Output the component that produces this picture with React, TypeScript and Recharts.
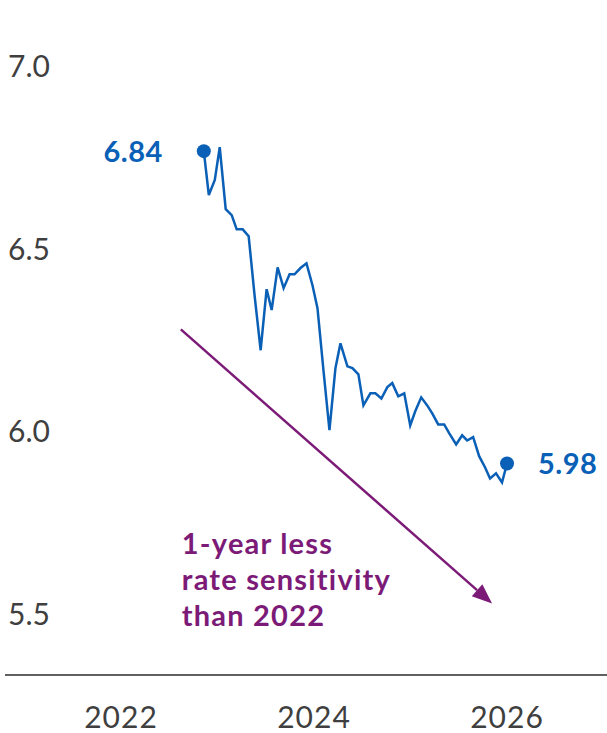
import { LineChart, Line, XAxis, YAxis, ReferenceLine } from 'recharts'

// decimal years, roughly every three weeks
const dates = [
  2022.858, 2022.91, 2022.972, 2023.023, 2023.085, 2023.147, 2023.199, 2023.261,
  2023.323, 2023.385, 2023.447, 2023.509, 2023.561, 2023.623, 2023.685, 2023.747,
  2023.798, 2023.86, 2023.922, 2023.984, 2024.036, 2024.098, 2024.16, 2024.222,
  2024.274, 2024.346, 2024.398, 2024.46, 2024.512, 2024.584, 2024.636, 2024.698,
  2024.76, 2024.811, 2024.873, 2024.935, 2024.997, 2025.049, 2025.111, 2025.173,
  2025.225, 2025.287, 2025.349, 2025.4, 2025.473, 2025.535, 2025.587, 2025.649,
  2025.711, 2025.773, 2025.824, 2025.886, 2025.948, 2026.0,
]

const duration = [
  6.767, 6.647, 6.688, 6.778, 6.608, 6.592, 6.553, 6.553,
  6.534, 6.37, 6.222, 6.389, 6.332, 6.449, 6.392, 6.43,
  6.43, 6.447, 6.46, 6.4, 6.337, 6.167, 6.003, 6.173,
  6.241, 6.178, 6.173, 6.156, 6.071, 6.104, 6.104, 6.09,
  6.121, 6.132, 6.096, 6.104, 6.016, 6.055, 6.093, 6.071,
  6.049, 6.019, 6.019, 5.995, 5.964, 5.989, 5.975, 5.984,
  5.932, 5.901, 5.871, 5.885, 5.86, 5.912,
]

const endLabels = ['6.84', '5.98']
const yearTicks = [2022, 2024, 2026]
const durationTicks = [5.5, 6.0, 6.5, 7.0]
const trendFrom = { x: 2022.62, y: 6.279 }
const trendTo = { x: 2025.845, y: 5.529 }
const trendNote = ['1-year less', 'rate sensitivity', 'than 2022']

const BLUE = '#0a5fb6'
const PURPLE = '#7c1b77'
const AXIS_TEXT = '#3f3f3f'
const FONT = 'Lato, "Open Sans", sans-serif'

const data = dates.map((d, i) => ({ date: d, value: duration[i] }))

function YearTick({ x, y, payload }: any) {
  return (
    <text x={x} y={y + 53} textAnchor="middle" fill={AXIS_TEXT} fontSize={30} letterSpacing={1} fontFamily={FONT}>
      {payload.value}
    </text>
  )
}

function DurationTick({ y, payload }: any) {
  return (
    <text x={8} y={y + 11} textAnchor="start" fill={AXIS_TEXT} fontSize={30} fontFamily={FONT}>
      {payload.value.toFixed(1)}
    </text>
  )
}

function EndDot(props: any) {
  const { cx, cy, index } = props
  const last = data.length - 1
  if (index !== 0 && index !== last) return <g key={`d${index}`} />
  const first = index === 0
  return (
    <g key={`d${index}`}>
      <circle cx={cx} cy={cy} r={7} fill={BLUE} />
      <text
        x={first ? cx - 41 : cx + 31}
        y={cy + 11}
        textAnchor={first ? 'end' : 'start'}
        fill={BLUE}
        fontSize={29}
        fontWeight={700}
        letterSpacing={0.5}
        fontFamily={FONT}
      >
        {first ? endLabels[0] : endLabels[1]}
      </text>
    </g>
  )
}

function TrendArrow(props: any) {
  const { x1, y1, x2, y2 } = props
  const ang = Math.atan2(y2 - y1, x2 - x1)
  const len = 20
  const half = 8
  const bx = x2 - len * Math.cos(ang)
  const by = y2 - len * Math.sin(ang)
  const px = -Math.sin(ang) * half
  const py = Math.cos(ang) * half
  return (
    <g>
      <line x1={x1} y1={y1} x2={bx} y2={by} stroke={PURPLE} strokeWidth={2.5} />
      <polygon points={`${x2},${y2} ${bx + px},${by + py} ${bx - px},${by - py}`} fill={PURPLE} />
      {trendNote.map((t, i) => (
        <text
          key={t}
          x={x1 + 1}
          y={y1 + 225 + i * 36}
          fill={PURPLE}
          fontSize={29}
          fontWeight={700}
          letterSpacing={1.2}
          fontFamily={FONT}
        >
          {t}
        </text>
      ))}
    </g>
  )
}

export default function App() {
  return (
    <div style={{ position: 'absolute', left: 0, top: 0, width: 607, height: 733, background: '#fff' }}>
      <LineChart width={607} height={733} data={data} margin={{ top: 20, right: 0, left: 0, bottom: 0 }}>
        <XAxis
          dataKey="date"
          type="number"
          domain={[2020.798, 2027.036]}
          ticks={yearTicks}
          allowDataOverflow
          height={58}
          tickSize={0}
          tickMargin={0}
          tickLine={false}
          axisLine={{ stroke: '#2b2b2b', strokeWidth: 1.5 }}
          tick={<YearTick />}
        />
        <YAxis
          type="number"
          domain={[5.333, 7.126]}
          ticks={durationTicks}
          allowDataOverflow
          width={5}
          tickSize={0}
          tickMargin={0}
          axisLine={false}
          tickLine={false}
          interval={0}
          tick={<DurationTick />}
        />
        <ReferenceLine
          segment={[trendFrom, trendTo]}
          ifOverflow="visible"
          shape={<TrendArrow />}
        />
        <Line
          dataKey="value"
          type="linear"
          stroke={BLUE}
          strokeWidth={2.5}
          dot={EndDot}
          activeDot={false}
          isAnimationActive={false}
        />
      </LineChart>
    </div>
  )
}
